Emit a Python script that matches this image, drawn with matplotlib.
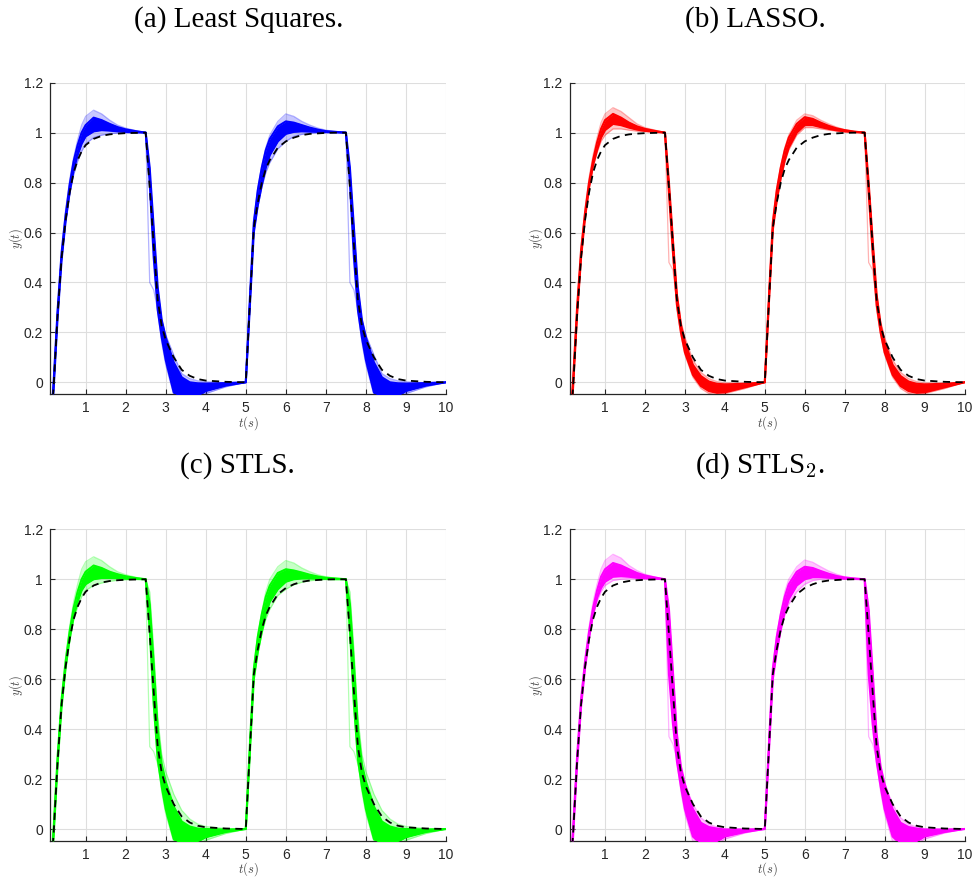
import matplotlib
matplotlib.use("Agg")
import matplotlib.pyplot as plt
import numpy as np

plt.rcParams['mathtext.fontset'] = 'cm'

# ---------------- time grid pieces (s) ----------------
t_rise1 = [0.1, 0.2, 0.3, 0.4, 0.5, 0.6, 0.7, 0.8, 0.9, 1.0, 1.2, 1.4, 1.6, 1.8, 2.0, 2.25, 2.5]
fall_off = [0.1, 0.2, 0.3, 0.4, 0.5, 0.7, 0.9, 1.1, 1.3, 1.5, 2.0, 2.5]   # after 2.5 s and 7.5 s
t_rise2 = [5.1, 5.2, 5.3, 5.4, 5.5, 5.6, 5.8, 6.0, 6.2, 6.4, 6.6, 6.8, 7.0, 7.25, 7.5]

# ---------------- reference (dashed) ----------------
ref_r1 = [-0.26, -0.02, 0.27, 0.50, 0.65, 0.76, 0.84, 0.89, 0.925, 0.95, 0.975, 0.987, 0.993, 0.996, 0.998, 0.999, 1.0]
ref_f = [0.78, 0.55, 0.33, 0.225, 0.17, 0.10, 0.05, 0.026, 0.013, 0.007, 0.002, 0.0]
ref_r2 = [0.31, 0.62, 0.72, 0.80, 0.855, 0.89, 0.94, 0.965, 0.98, 0.99, 0.995, 0.997, 0.999, 1.0, 1.0]

# ---------------- (a) Least Squares ----------------
a_top_r1 = [-0.24, 0.0, 0.29, 0.52, 0.67, 0.79, 0.885, 0.95, 1.0, 1.03, 1.06, 1.05, 1.035, 1.022, 1.013, 1.006, 1.0]
a_bot_r1 = [-0.27, -0.03, 0.26, 0.49, 0.645, 0.76, 0.85, 0.91, 0.955, 0.985, 1.005, 1.01, 1.008, 1.005, 1.003, 1.001, 1.0]
a_wild_r1 = [-0.23, 0.01, 0.30, 0.53, 0.69, 0.81, 0.90, 0.97, 1.03, 1.065, 1.09, 1.075, 1.05, 1.03, 1.018, 1.008, 1.0]
a_near_r1 = [-0.27, -0.03, 0.26, 0.49, 0.64, 0.75, 0.83, 0.885, 0.925, 0.955, 0.98, 0.99, 0.996, 0.998, 0.999, 1.0, 1.0]
a_top_f = [0.86, 0.62, 0.38, 0.25, 0.18, 0.08, 0.02, 0.0, -0.004, -0.005, -0.003, 0.0]
a_bot_f = [0.80, 0.50, 0.29, 0.18, 0.09, -0.04, -0.07, -0.07, -0.055, -0.035, -0.013, 0.0]
a_wild_f = [0.82, 0.52, 0.28, 0.16, 0.07, -0.05, -0.08, -0.08, -0.065, -0.045, -0.018, 0.0]
a_near_f = [0.84, 0.60, 0.36, 0.25, 0.19, 0.11, 0.035, 0.015, 0.006, 0.002, -0.002, 0.0]
a_fast_f = [0.40, 0.37, 0.29, 0.19, 0.12, 0.02, -0.02, -0.03, -0.025, -0.015, -0.005, 0.0]
a_top_r2 = [0.33, 0.64, 0.77, 0.86, 0.93, 0.975, 1.025, 1.045, 1.04, 1.03, 1.02, 1.012, 1.006, 1.003, 1.0]
a_bot_r2 = [0.30, 0.60, 0.71, 0.79, 0.86, 0.91, 0.965, 0.995, 1.003, 1.005, 1.004, 1.003, 1.002, 1.001, 1.0]
a_wild_r2 = [0.33, 0.65, 0.78, 0.87, 0.94, 0.99, 1.045, 1.075, 1.065, 1.045, 1.03, 1.018, 1.01, 1.004, 1.0]
a_near_r2 = [0.30, 0.60, 0.70, 0.78, 0.84, 0.88, 0.935, 0.965, 0.985, 0.993, 0.997, 0.999, 1.0, 1.0, 1.0]

# ---------------- (b) LASSO ----------------
b_top_r1 = [-0.23, 0.01, 0.30, 0.53, 0.68, 0.80, 0.89, 0.96, 1.015, 1.05, 1.075, 1.06, 1.04, 1.025, 1.015, 1.007, 1.0]
b_bot_r1 = [-0.26, -0.02, 0.27, 0.50, 0.66, 0.78, 0.87, 0.93, 0.98, 1.01, 1.035, 1.03, 1.02, 1.012, 1.007, 1.003, 1.0]
b_wild_r1 = [-0.22, 0.02, 0.31, 0.54, 0.70, 0.82, 0.91, 0.98, 1.04, 1.075, 1.10, 1.085, 1.06, 1.035, 1.02, 1.01, 1.0]
b_near_r1 = [-0.26, -0.02, 0.27, 0.50, 0.655, 0.775, 0.86, 0.92, 0.965, 0.99, 1.015, 1.015, 1.01, 1.006, 1.004, 1.002, 1.0]
b_top_f = [0.80, 0.57, 0.35, 0.23, 0.16, 0.07, 0.025, 0.003, -0.006, -0.008, -0.006, 0.0]
b_bot_f = [0.76, 0.52, 0.31, 0.20, 0.12, 0.03, -0.015, -0.035, -0.042, -0.040, -0.02, 0.0]
b_wild_f = [0.75, 0.50, 0.29, 0.19, 0.11, 0.02, -0.025, -0.045, -0.05, -0.045, -0.025, 0.0]
b_near_f = [0.80, 0.58, 0.36, 0.245, 0.18, 0.09, 0.04, 0.015, 0.003, -0.002, -0.003, 0.0]
b_fast_f = [0.48, 0.45, 0.32, 0.21, 0.14, 0.05, 0.0, -0.02, -0.03, -0.03, -0.015, 0.0]
b_top_r2 = [0.33, 0.64, 0.77, 0.86, 0.93, 0.98, 1.035, 1.062, 1.055, 1.04, 1.027, 1.017, 1.01, 1.004, 1.0]
b_bot_r2 = [0.31, 0.61, 0.73, 0.82, 0.89, 0.94, 1.0, 1.03, 1.03, 1.022, 1.015, 1.009, 1.005, 1.002, 1.0]
b_wild_r2 = [0.34, 0.65, 0.78, 0.87, 0.94, 0.99, 1.05, 1.075, 1.068, 1.05, 1.035, 1.022, 1.012, 1.005, 1.0]
b_near_r2 = [0.31, 0.61, 0.72, 0.81, 0.88, 0.93, 0.99, 1.02, 1.02, 1.015, 1.01, 1.006, 1.003, 1.001, 1.0]

# ---------------- (c) STLS ----------------
c_top_r1 = [-0.24, 0.0, 0.29, 0.52, 0.67, 0.79, 0.885, 0.95, 1.0, 1.03, 1.055, 1.045, 1.03, 1.02, 1.012, 1.005, 1.0]
c_bot_r1 = [-0.27, -0.03, 0.26, 0.49, 0.645, 0.76, 0.85, 0.91, 0.955, 0.98, 1.0, 1.005, 1.005, 1.004, 1.002, 1.001, 1.0]
c_wild_r1 = [-0.23, 0.01, 0.30, 0.53, 0.69, 0.81, 0.91, 0.98, 1.04, 1.07, 1.09, 1.075, 1.05, 1.03, 1.018, 1.008, 1.0]
c_near_r1 = [-0.27, -0.03, 0.26, 0.49, 0.64, 0.75, 0.835, 0.89, 0.93, 0.955, 0.975, 0.985, 0.992, 0.996, 0.998, 1.0, 1.0]
c_top_f = [0.90, 0.66, 0.40, 0.26, 0.19, 0.09, 0.03, 0.01, 0.002, 0.0, -0.002, 0.0]
c_bot_f = [0.80, 0.50, 0.28, 0.17, 0.08, -0.04, -0.065, -0.065, -0.05, -0.033, -0.012, 0.0]
c_wild_f = [0.78, 0.48, 0.27, 0.15, 0.06, -0.05, -0.08, -0.08, -0.065, -0.045, -0.018, 0.0]
c_near_f = [0.95, 0.72, 0.45, 0.30, 0.23, 0.14, 0.075, 0.04, 0.02, 0.01, 0.002, 0.0]
c_fast_f = [0.33, 0.31, 0.26, 0.18, 0.12, 0.03, -0.01, -0.02, -0.02, -0.012, -0.004, 0.0]
c_top_r2 = [0.33, 0.64, 0.77, 0.86, 0.93, 0.975, 1.025, 1.04, 1.035, 1.027, 1.018, 1.011, 1.006, 1.003, 1.0]
c_bot_r2 = [0.30, 0.60, 0.71, 0.79, 0.86, 0.91, 0.96, 0.99, 1.0, 1.003, 1.003, 1.002, 1.001, 1.0, 1.0]
c_wild_r2 = [0.34, 0.65, 0.78, 0.87, 0.95, 1.0, 1.05, 1.075, 1.065, 1.045, 1.03, 1.018, 1.01, 1.004, 1.0]
c_near_r2 = [0.30, 0.60, 0.70, 0.78, 0.84, 0.88, 0.935, 0.96, 0.978, 0.988, 0.994, 0.997, 0.999, 1.0, 1.0]

# ---------------- (d) STLS_2 ----------------
d_top_r1 = [-0.24, 0.0, 0.29, 0.52, 0.67, 0.79, 0.885, 0.955, 1.01, 1.04, 1.065, 1.055, 1.04, 1.025, 1.015, 1.007, 1.0]
d_bot_r1 = [-0.27, -0.03, 0.26, 0.49, 0.645, 0.765, 0.86, 0.925, 0.965, 0.99, 1.01, 1.012, 1.01, 1.006, 1.004, 1.002, 1.0]
d_wild_r1 = [-0.23, 0.01, 0.30, 0.53, 0.69, 0.81, 0.91, 0.98, 1.04, 1.075, 1.10, 1.085, 1.055, 1.035, 1.02, 1.009, 1.0]
d_near_r1 = [-0.27, -0.03, 0.26, 0.49, 0.645, 0.76, 0.85, 0.91, 0.95, 0.975, 0.995, 1.0, 1.002, 1.002, 1.001, 1.0, 1.0]
d_top_f = [0.88, 0.63, 0.38, 0.25, 0.18, 0.08, 0.025, 0.008, 0.002, -0.002, -0.002, 0.0]
d_bot_f = [0.62, 0.42, 0.27, 0.17, 0.08, -0.03, -0.06, -0.06, -0.05, -0.03, -0.012, 0.0]
d_wild_f = [0.75, 0.48, 0.27, 0.15, 0.06, -0.05, -0.075, -0.075, -0.06, -0.04, -0.016, 0.0]
d_near_f = [0.85, 0.60, 0.36, 0.245, 0.18, 0.10, 0.045, 0.02, 0.008, 0.002, -0.001, 0.0]
d_fast_f = [0.37, 0.34, 0.28, 0.18, 0.11, 0.01, -0.03, -0.04, -0.035, -0.02, -0.008, 0.0]
d_top_r2 = [0.33, 0.64, 0.77, 0.86, 0.93, 0.98, 1.03, 1.05, 1.045, 1.033, 1.022, 1.013, 1.007, 1.003, 1.0]
d_bot_r2 = [0.30, 0.60, 0.71, 0.80, 0.87, 0.92, 0.975, 1.0, 1.008, 1.008, 1.006, 1.004, 1.002, 1.001, 1.0]
d_wild_r2 = [0.34, 0.65, 0.78, 0.87, 0.95, 1.0, 1.05, 1.077, 1.068, 1.05, 1.033, 1.02, 1.01, 1.004, 1.0]
d_near_r2 = [0.30, 0.60, 0.71, 0.79, 0.855, 0.90, 0.95, 0.98, 0.995, 1.0, 1.001, 1.001, 1.0, 1.0, 1.0]

titles = ["(a) Least Squares.", "(b) LASSO.", "(c) STLS.", r"(d) STLS$_2$."]
colors = ["#0000FF", "#FF0000", "#00FF00", "#FF00FF"]
x_ticks = [1, 2, 3, 4, 5, 6, 7, 8, 9, 10]
y_ticks = [0, 0.2, 0.4, 0.6, 0.8, 1.0, 1.2]
y_ticklabels = ["0", "0.2", "0.4", "0.6", "0.8", "1", "1.2"]

t_all = np.array(t_rise1 + [2.5 + o for o in fall_off] + t_rise2 + [7.5 + o for o in fall_off])


def series(r1, f, r2):
    return np.array(r1 + f + r2 + f)


ref = series(ref_r1, ref_f, ref_r2)

panels = [
    dict(top=series(a_top_r1, a_top_f, a_top_r2), bot=series(a_bot_r1, a_bot_f, a_bot_r2),
         wild=series(a_wild_r1, a_wild_f, a_wild_r2), near=series(a_near_r1, a_near_f, a_near_r2),
         fast=series(a_top_r1, a_fast_f, a_top_r2)),
    dict(top=series(b_top_r1, b_top_f, b_top_r2), bot=series(b_bot_r1, b_bot_f, b_bot_r2),
         wild=series(b_wild_r1, b_wild_f, b_wild_r2), near=series(b_near_r1, b_near_f, b_near_r2),
         fast=series(b_top_r1, b_fast_f, b_top_r2)),
    dict(top=series(c_top_r1, c_top_f, c_top_r2), bot=series(c_bot_r1, c_bot_f, c_bot_r2),
         wild=series(c_wild_r1, c_wild_f, c_wild_r2), near=series(c_near_r1, c_near_f, c_near_r2),
         fast=series(c_top_r1, c_fast_f, c_top_r2)),
    dict(top=series(d_top_r1, d_top_f, d_top_r2), bot=series(d_bot_r1, d_bot_f, d_bot_r2),
         wild=series(d_wild_r1, d_wild_f, d_wild_r2), near=series(d_near_r1, d_near_f, d_near_r2),
         fast=series(d_top_r1, d_fast_f, d_top_r2)),
]

W, H = 973, 882
fig = plt.figure(figsize=(W / 100, H / 100), dpi=100)

ax_rects = [
    (50, 82.7, 446, 394.3),
    (569.5, 82.7, 964.5, 394.3),
    (50, 529.3, 446, 841),
    (569.5, 529.3, 964.5, 841),
]
title_pos = [(239, 20), (755, 20), (237, 466), (760, 466)]
axis_col = "#262626"

for i, (x0, y0, x1, y1) in enumerate(ax_rects):
    ax = fig.add_axes([x0 / W, 1 - y1 / H, (x1 - x0) / W, (y1 - y0) / H])
    c = colors[i]
    p = panels[i]
    # faint halo of the outer trajectories
    ax.fill_between(t_all, p["top"], p["wild"], color=c, alpha=0.22, lw=0, zorder=2)
    ax.fill_between(t_all, p["bot"], p["near"], color=c, alpha=0.22, lw=0, zorder=2)
    for key in ("wild", "near", "fast"):
        ax.plot(t_all, p[key], color=c, lw=0.9, alpha=0.3, zorder=2)
    # dense core of the ensemble
    ax.fill_between(t_all, p["bot"], p["top"], color=c, alpha=1.0, lw=0, zorder=3)
    ax.plot(t_all, p["top"], color=c, lw=1.5, zorder=3)
    ax.plot(t_all, p["bot"], color=c, lw=1.5, zorder=3)
    ax.plot(t_all, ref, color="black", lw=1.3, ls=(0, (4, 3)), zorder=5)

    ax.set_xlim(0.11, 10)
    ax.set_ylim(-0.048, 1.2)
    ax.set_xticks(x_ticks)
    ax.set_xticklabels([str(v) for v in x_ticks])
    ax.set_yticks(y_ticks)
    ax.set_yticklabels(y_ticklabels)
    ax.grid(True, color="#dedede", lw=0.8)
    ax.set_axisbelow(True)
    for s in ("top", "right"):
        ax.spines[s].set_visible(False)
    for s in ("left", "bottom"):
        ax.spines[s].set_color(axis_col)
        ax.spines[s].set_linewidth(0.9)
    ax.tick_params(direction="in", length=3.5, width=0.8, colors=axis_col,
                   labelsize=10, pad=5)
    for lab in ax.get_xticklabels() + ax.get_yticklabels():
        lab.set_fontfamily("Liberation Sans")
        lab.set_color(axis_col)
    ax.set_xlabel(r"$t(s)$", fontsize=9, color="#444444", labelpad=-1)
    ax.set_ylabel(r"$y(t)$", fontsize=9, color="#444444", labelpad=-1)

    tx, ty = title_pos[i]
    fig.text(tx / W, 1 - ty / H, titles[i], ha="center", va="center",
             fontsize=21, family="Liberation Serif")

fig.savefig("out.png", dpi=100)
